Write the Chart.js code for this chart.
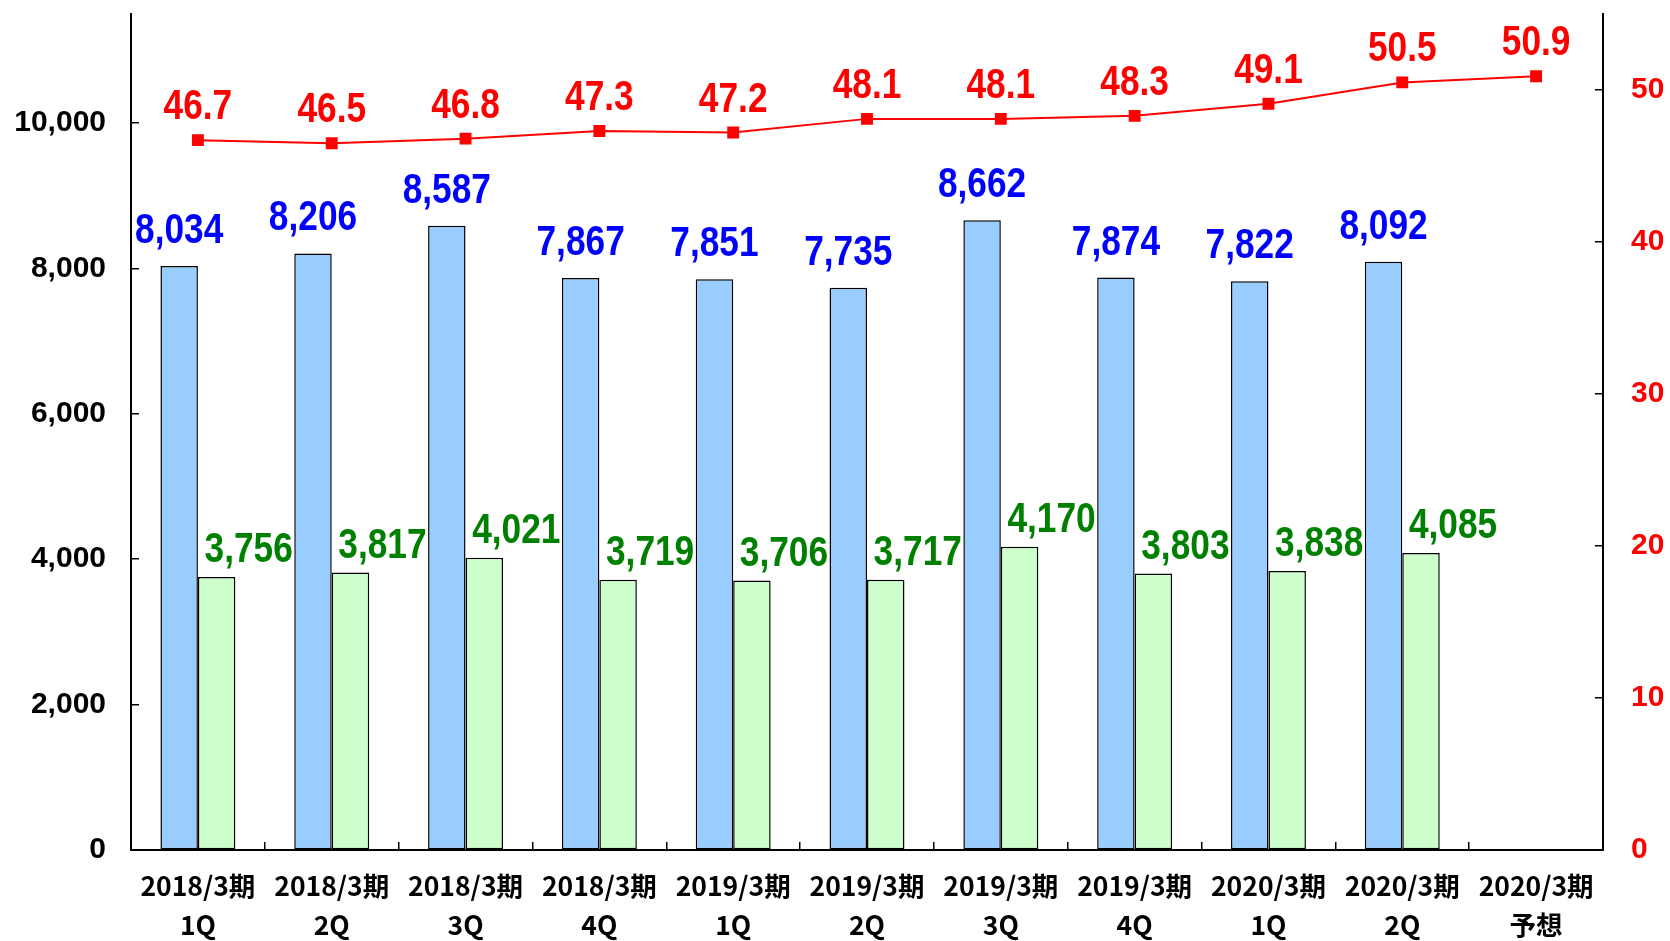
<!DOCTYPE html>
<html>
<head>
<meta charset="utf-8">
<script src="https://cdn.jsdelivr.net/npm/chart.js@4.4.1/dist/chart.umd.min.js"></script>
<style>
  html, body { margin: 0; padding: 0; background: #fff; }
</style>
</head>
<body>
<canvas id="myChart" width="1670" height="941"></canvas>
<script>
// categories (two-line x labels)
const categories = [
  ["2018/3期", "1Q"], ["2018/3期", "2Q"], ["2018/3期", "3Q"], ["2018/3期", "4Q"],
  ["2019/3期", "1Q"], ["2019/3期", "2Q"], ["2019/3期", "3Q"], ["2019/3期", "4Q"],
  ["2020/3期", "1Q"], ["2020/3期", "2Q"], ["2020/3期", "予想"]
];
// blue bars (left axis)
const blueValues = [8034, 8206, 8587, 7867, 7851, 7735, 8662, 7874, 7822, 8092, null];
// green bars (left axis)
const greenValues = [3756, 3817, 4021, 3719, 3706, 3717, 4170, 3803, 3838, 4085, null];
// red line (right axis)
const redValues = [46.7, 46.5, 46.8, 47.3, 47.2, 48.1, 48.1, 48.3, 49.1, 50.5, 50.9];

// axis ticks
const leftTicks = [0, 2000, 4000, 6000, 8000, 10000];
const rightTicks = [0, 10, 20, 30, 40, 50];
const leftMax = 11500;
const rightMax = 55;

// draws the value labels above bars / points
const valueLabels = {
  id: "valueLabels",
  afterDatasetsDraw(chart) {
    const ctx = chart.ctx;
    chart.data.datasets.forEach((ds, i) => {
      const meta = chart.getDatasetMeta(i);
      meta.data.forEach((el, j) => {
        const v = ds.data[j];
        if (v === null || v === undefined) return;
        const text = ds.type === "line" ? v.toFixed(1) : v.toLocaleString("en-US");
        ctx.save();
        ctx.translate(el.x + ds.labelDx, el.y - ds.labelGap);
        ctx.scale(0.82, 1);
        ctx.font = "bold 43px 'Liberation Sans', Arial, sans-serif";
        ctx.fillStyle = ds.labelColor;
        ctx.textAlign = "center";
        ctx.textBaseline = "alphabetic";
        ctx.fillText(text, 0, 0);
        ctx.restore();
      });
    });
  }
};

const ctx = document.getElementById("myChart").getContext("2d");
new Chart(ctx, {
  data: {
    labels: categories,
    datasets: [
      {
        type: "line",
        data: redValues,
        yAxisID: "y2",
        borderColor: "#ff0000",
        backgroundColor: "#ff0000",
        borderWidth: 2,
        tension: 0,
        pointStyle: "rect",
        pointRadius: 7,
        pointHoverRadius: 7,
        labelColor: "#ff0000",
        labelDx: 0,
        labelGap: 21,
        order: 0
      },
      {
        type: "bar",
        data: blueValues,
        yAxisID: "y",
        backgroundColor: "#99ccff",
        borderColor: "#000000",
        borderWidth: 1.5,
        borderSkipped: false,
        categoryPercentage: 0.56,
        barPercentage: 1,
        labelColor: "#0000ff",
        labelDx: 0,
        labelGap: 23,
        order: 1
      },
      {
        type: "bar",
        data: greenValues,
        yAxisID: "y",
        backgroundColor: "#ccffcc",
        borderColor: "#000000",
        borderWidth: 1.5,
        borderSkipped: false,
        categoryPercentage: 0.56,
        barPercentage: 1,
        labelColor: "#008000",
        labelDx: 32,
        labelGap: 15,
        order: 2
      }
    ]
  },
  options: {
    responsive: false,
    animation: false,
    locale: "en-US",
    layout: { padding: { top: 14, left: 0, right: 0, bottom: 0 }, autoPadding: false },
    plugins: { legend: { display: false }, tooltip: { enabled: false } },
    scales: {
      x: {
        offset: true,
        grid: { offset: true, drawOnChartArea: false, drawTicks: true, tickLength: -8, color: "#000", lineWidth: 1.5 },
        border: { display: true, color: "#000", width: 2 },
        ticks: {
          autoSkip: false, maxRotation: 0, color: "#000", padding: 24,
          font: { family: "'Noto Sans CJK JP', sans-serif", size: 26.5, weight: "bold", lineHeight: 1.48 }
        },
        afterFit(scale) {
          scale.height = 91;
          scale.paddingLeft = 0;
          scale.paddingRight = 0;
        }
      },
      y: {
        position: "left",
        min: 0, max: leftMax,
        grid: { drawOnChartArea: false, drawTicks: true, tickLength: -8, color: "#000", lineWidth: 1.5 },
        border: { display: true, color: "#000", width: 2 },
        ticks: {
          color: "#000", padding: 33,
          font: { family: "'Liberation Sans', Arial, sans-serif", size: 30, weight: "bold" }
        },
        afterBuildTicks(scale) { scale.ticks = leftTicks.map((v) => ({ value: v })); },
        afterFit(scale) {
          scale.width = 131;
          scale.paddingTop = 0;
          scale.paddingBottom = 0;
        }
      },
      y2: {
        position: "right",
        min: 0, max: rightMax,
        grid: { drawOnChartArea: false, drawTicks: true, tickLength: -8, color: "#000", lineWidth: 1.5 },
        border: { display: true, color: "#000", width: 2 },
        ticks: {
          color: "#ff0000", padding: 36,
          font: { family: "'Liberation Sans', Arial, sans-serif", size: 30, weight: "bold" }
        },
        afterBuildTicks(scale) { scale.ticks = rightTicks.map((v) => ({ value: v })); },
        afterFit(scale) {
          scale.width = 67;
          scale.paddingTop = 0;
          scale.paddingBottom = 0;
        }
      }
    }
  },
  plugins: [valueLabels]
});
</script>
</body>
</html>
